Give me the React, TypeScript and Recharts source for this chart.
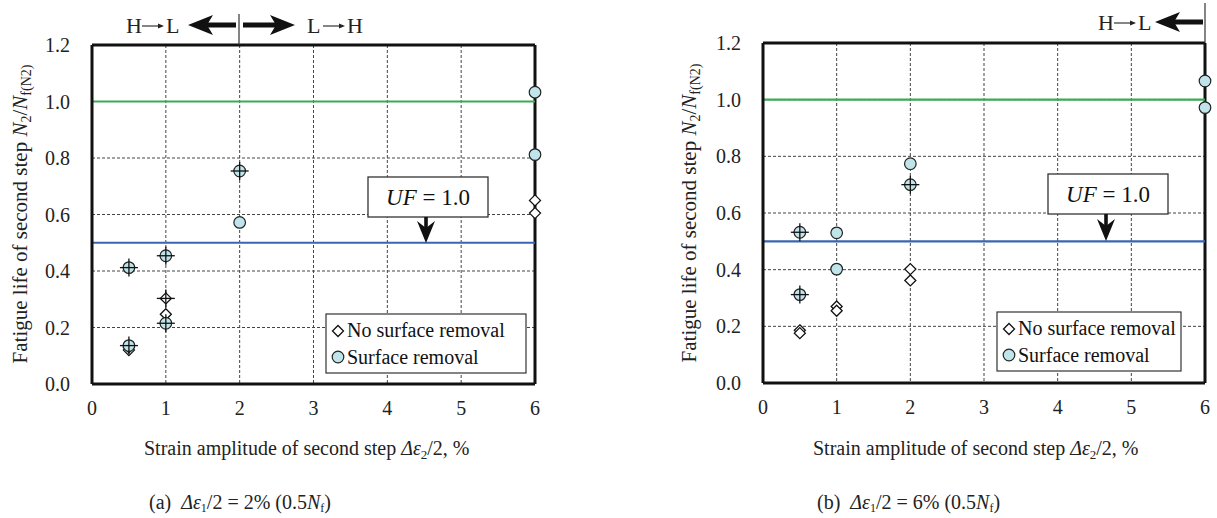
import React from 'react';
import { ScatterChart, Scatter, XAxis, YAxis, CartesianGrid, ReferenceLine } from 'recharts';

const strainTicks = [0, 1, 2, 3, 4, 5, 6];
const lifeTicks = [0, 0.2, 0.4, 0.6, 0.8, 1.0, 1.2];

// (a) first step 2 %
const noRemovalA = [
  { x: 0.5, y: 0.12, cross: false },
  { x: 0.5, y: 0.13, cross: false },
  { x: 1, y: 0.303, cross: true },
  { x: 1, y: 0.247, cross: false },
  { x: 6, y: 0.65, cross: false },
  { x: 6, y: 0.605, cross: false },
];
const removalA = [
  { x: 0.5, y: 0.412, cross: true },
  { x: 0.5, y: 0.136, cross: true },
  { x: 1, y: 0.454, cross: true },
  { x: 1, y: 0.215, cross: true },
  { x: 2, y: 0.754, cross: true },
  { x: 2, y: 0.572, cross: false },
  { x: 6, y: 1.033, cross: false },
  { x: 6, y: 0.812, cross: false },
];

// (b) first step 6 %
const noRemovalB = [
  { x: 0.5, y: 0.186, cross: false },
  { x: 0.5, y: 0.176, cross: false },
  { x: 1, y: 0.27, cross: false },
  { x: 1, y: 0.255, cross: false },
  { x: 2, y: 0.402, cross: false },
  { x: 2, y: 0.362, cross: false },
];
const removalB = [
  { x: 0.5, y: 0.532, cross: true },
  { x: 0.5, y: 0.312, cross: true },
  { x: 1, y: 0.53, cross: false },
  { x: 1, y: 0.402, cross: false },
  { x: 2, y: 0.774, cross: false },
  { x: 2, y: 0.7, cross: true },
  { x: 6, y: 1.066, cross: false },
  { x: 6, y: 0.972, cross: false },
];

const SERIF = 'Liberation Serif, Tinos, Times New Roman, DejaVu Serif, serif';
const CYAN = '#bfe4ea';

const Cross = ({ cx, cy }: { cx: number; cy: number }) => (
  <g stroke="#111" strokeWidth={1.3}>
    <line x1={cx - 9} y1={cy} x2={cx + 9} y2={cy} />
    <line x1={cx} y1={cy - 9} x2={cx} y2={cy + 9} />
  </g>
);

const diamondShape = (p: any) => {
  const { cx, cy, payload } = p;
  const s = 5.5;
  return (
    <g>
      <path
        d={`M${cx},${cy - s} L${cx + s},${cy} L${cx},${cy + s} L${cx - s},${cy} Z`}
        fill="#fff"
        stroke="#111"
        strokeWidth={1.3}
      />
      {payload.cross && <Cross cx={cx} cy={cy} />}
    </g>
  );
};

const circleShape = (p: any) => {
  const { cx, cy, payload } = p;
  return (
    <g>
      <circle cx={cx} cy={cy} r={5.8} fill={CYAN} stroke="#222" strokeWidth={1.2} />
      {payload.cross && <Cross cx={cx} cy={cy} />}
    </g>
  );
};

const tickStyle = { fill: '#222', fontSize: 20, fontFamily: SERIF };

function Panel({ left, width, top, bottom, plotLeft, plotRight, noRemoval, removal }: any) {
  return (
    <div style={{ position: 'absolute', left, top: 0 }}>
      <ScatterChart
        width={width}
        height={470}
        margin={{ top, right: width - plotRight, left: plotLeft - 40, bottom: 470 - bottom - 30 }}
      >
        <CartesianGrid stroke="#444" strokeDasharray="3 2" strokeWidth={1} />
        <XAxis
          type="number"
          dataKey="x"
          domain={[0, 6]}
          ticks={strainTicks}
          height={30}
          tickSize={0}
          tickMargin={17}
          tick={tickStyle}
          axisLine={{ stroke: '#111', strokeWidth: 3 }}
        />
        <YAxis
          type="number"
          dataKey="y"
          domain={[0, 1.2]}
          ticks={lifeTicks}
          width={40}
          tickSize={0}
          tickMargin={22}
          tick={tickStyle}
          tickFormatter={(v: number) => v.toFixed(1)}
          axisLine={{ stroke: '#111', strokeWidth: 3 }}
        />
        <ReferenceLine y={1.2} stroke="#111" strokeWidth={3} />
        <ReferenceLine x={6} stroke="#111" strokeWidth={3} />
        <ReferenceLine y={1.0} stroke="#3aab55" strokeWidth={2.2} />
        <ReferenceLine y={0.5} stroke="#3b64b2" strokeWidth={2.2} />
        <Scatter data={noRemoval} shape={diamondShape} isAnimationActive={false} />
        <Scatter data={removal} shape={circleShape} isAnimationActive={false} />
      </ScatterChart>
    </div>
  );
}

function HArrow({ from, to, y }: { from: number; to: number; y: number }) {
  const d = Math.sign(to - from);
  return (
    <g fill="#111" stroke="none">
      <rect x={Math.min(from, to - d * 18)} y={y - 2.5} width={Math.abs(to - d * 18 - from)} height={5} />
      <polygon points={`${to},${y} ${to - d * 25},${y - 10} ${to - d * 19},${y} ${to - d * 25},${y + 10}`} />
    </g>
  );
}

// "H→L" style label with a thin drawn arrow between letters
function Dir({ x, y, a, b }: { x: number; y: number; a: string; b: string }) {
  const ax = x + 16;
  return (
    <g fontSize={22} fontFamily={SERIF} fill="#222">
      <text x={x} y={y}>{a}</text>
      <line x1={ax} y1={y - 7} x2={ax + 20} y2={y - 7} stroke="#222" strokeWidth={1.1} />
      <polygon points={`${ax + 22},${y - 7} ${ax + 16},${y - 9.5} ${ax + 16},${y - 4.5}`} fill="#222" />
      <text x={ax + 24} y={y}>{b}</text>
    </g>
  );
}

function DownArrow({ x, y1, y2 }: { x: number; y1: number; y2: number }) {
  return (
    <g fill="#111">
      <rect x={x - 1.8} y={y1} width={3.6} height={y2 - y1 - 12} />
      <polygon points={`${x},${y2} ${x - 9},${y2 - 22} ${x},${y2 - 15} ${x + 9},${y2 - 22}`} />
    </g>
  );
}

function UFBox({ x, y, arrowX, lineY }: any) {
  return (
    <g>
      <rect x={x} y={y} width={120} height={40} fill="#fff" stroke="#333" strokeWidth={1.3} />
      <text x={x + 60} y={y + 28} textAnchor="middle" fontSize={23} fontFamily={SERIF} fill="#111">
        <tspan fontStyle="italic">UF</tspan> = 1.0
      </text>
      <DownArrow x={arrowX} y1={y + 40} y2={lineY} />
    </g>
  );
}

function LegendBox({ x, y, w }: { x: number; y: number; w: number }) {
  const s = 5.5;
  const dx = x + 12;
  const dy = y + 17;
  return (
    <g fontFamily={SERIF} fontSize={20} fill="#111">
      <rect x={x} y={y} width={w} height={59} fill="#fff" stroke="#333" strokeWidth={1.2} />
      <path
        d={`M${dx},${dy - s} L${dx + s},${dy} L${dx},${dy + s} L${dx - s},${dy} Z`}
        fill="#fff"
        stroke="#111"
        strokeWidth={1.3}
      />
      <text x={x + 21} y={y + 23}>No surface removal</text>
      <circle cx={dx} cy={y + 43} r={5.8} fill={CYAN} stroke="#222" strokeWidth={1.2} />
      <text x={x + 21} y={y + 50}>Surface removal</text>
    </g>
  );
}

function YTitle({ x, y }: { x: number; y: number }) {
  return (
    <text transform={`translate(${x},${y}) rotate(-90)`} textAnchor="middle" fontSize={21} fontFamily={SERIF} fill="#222">
      Fatigue life of second step <tspan fontStyle="italic">N</tspan>
      <tspan fontSize={14} dy={4}>2</tspan>
      <tspan dy={-4}>/</tspan>
      <tspan fontStyle="italic">N</tspan>
      <tspan fontSize={14} dy={4}>f(N2)</tspan>
    </text>
  );
}

function XTitle({ x, y }: { x: number; y: number }) {
  return (
    <text x={x} y={y} fontSize={20} fontFamily={SERIF} fill="#222" style={{ whiteSpace: 'pre' }}>
      {'Strain amplitude of second step '}
      <tspan fontStyle="italic">Δε</tspan>
      <tspan fontSize={13} dy={4}>2</tspan>
      <tspan dy={-4}>{'/2, %'}</tspan>
    </text>
  );
}

function Caption({ x, y, tag, amp }: { x: number; y: number; tag: string; amp: string }) {
  return (
    <text x={x} y={y} fontSize={20} fontFamily={SERIF} fill="#222" style={{ whiteSpace: 'pre' }}>
      {`(${tag})  `}
      <tspan fontStyle="italic">Δε</tspan>
      <tspan fontSize={12} dy={3}>1</tspan>
      <tspan dy={-3}>{`/2 = ${amp}% (0.5`}</tspan>
      <tspan fontStyle="italic">N</tspan>
      <tspan fontSize={12} dy={3}>f</tspan>
      <tspan dy={-3}>)</tspan>
    </text>
  );
}

export default function App() {
  return (
    <div style={{ position: 'absolute', left: 0, top: 0, width: 1217, height: 518, background: '#fff', overflow: 'hidden', fontFamily: SERIF }}>
      <Panel left={0} width={560} top={45} bottom={384} plotLeft={92} plotRight={535} noRemoval={noRemovalA} removal={removalA} />
      <Panel left={640} width={577} top={43} bottom={383} plotLeft={123} plotRight={565} noRemoval={noRemovalB} removal={removalB} />
      <svg width={1217} height={518} style={{ position: 'absolute', left: 0, top: 0, pointerEvents: 'none' }}>
        {/* (a) direction arrows */}
        <line x1={239} y1={14} x2={239} y2={45} stroke="#333" strokeWidth={1.2} />
        <HArrow from={236} to={188} y={25} />
        <HArrow from={243} to={295} y={25} />
        <Dir x={126} y={33} a="H" b="L" />
        <Dir x={307} y={33} a="L" b="H" />
        {/* (b) direction arrow */}
        <line x1={1205} y1={3} x2={1205} y2={43} stroke="#333" strokeWidth={1.2} />
        <HArrow from={1203} to={1155} y={22} />
        <Dir x={1098} y={30} a="H" b="L" />

        <UFBox x={368} y={177} arrowX={426} lineY={243} />
        <UFBox x={1048} y={174} arrowX={1106} lineY={241} />
        <LegendBox x={326} y={314} w={200} />
        <LegendBox x={997} y={312} w={184} />

        <YTitle x={27} y={214} />
        <YTitle x={696} y={213} />
        <XTitle x={144} y={455} />
        <XTitle x={813} y={455} />
        <Caption x={149} y={509} tag="a" amp="2" />
        <Caption x={817} y={509} tag="b" amp="6" />
      </svg>
    </div>
  );
}
